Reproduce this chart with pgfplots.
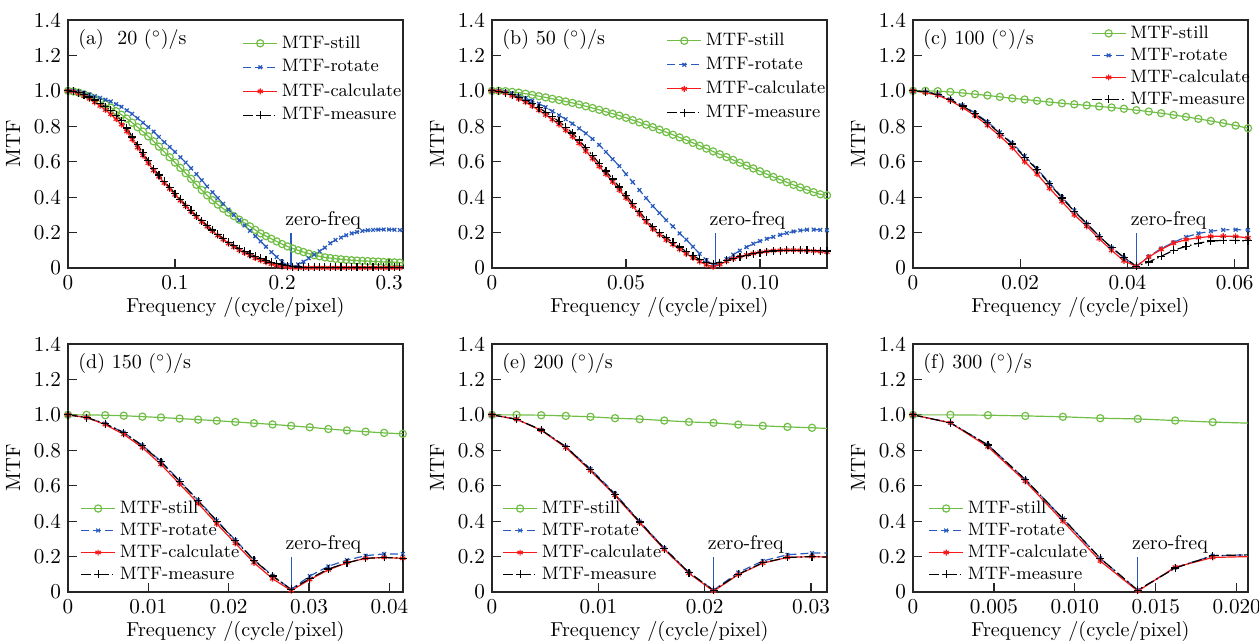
\documentclass[border=0pt]{standalone}
\usepackage{pgfplots}
\usepackage{pgfplotstable}
\pgfplotsset{compat=1.18}
\definecolor{mgreen}{RGB}{112,190,70}
\definecolor{mblue}{RGB}{40,90,190}
\definecolor{mred}{RGB}{250,25,25}

\pgfplotstableread{
x s r c m
0.000 1.000 1.000 1.000 1.000
0.005 0.997 0.999 0.995 0.997
0.010 0.990 0.995 0.985 0.990
0.015 0.980 0.988 0.970 0.978
0.020 0.970 0.980 0.955 0.965
0.025 0.955 0.970 0.935 0.948
0.030 0.940 0.960 0.915 0.930
0.035 0.923 0.950 0.892 0.910
0.040 0.905 0.940 0.868 0.890
0.045 0.885 0.925 0.840 0.862
0.050 0.865 0.910 0.810 0.832
0.055 0.843 0.890 0.770 0.790
0.060 0.820 0.870 0.725 0.740
0.065 0.795 0.845 0.680 0.695
0.070 0.770 0.820 0.635 0.650
0.075 0.743 0.795 0.592 0.605
0.080 0.715 0.770 0.550 0.560
0.085 0.685 0.740 0.515 0.525
0.090 0.655 0.710 0.480 0.490
0.095 0.625 0.683 0.447 0.455
0.100 0.595 0.655 0.413 0.420
0.105 0.565 0.625 0.380 0.388
0.110 0.535 0.595 0.348 0.355
0.115 0.503 0.563 0.318 0.325
0.120 0.470 0.530 0.288 0.295
0.125 0.440 0.495 0.260 0.268
0.130 0.410 0.460 0.233 0.240
0.135 0.383 0.428 0.208 0.215
0.140 0.358 0.395 0.183 0.190
0.145 0.335 0.362 0.160 0.168
0.150 0.313 0.330 0.138 0.145
0.155 0.293 0.300 0.118 0.127
0.160 0.273 0.270 0.100 0.110
0.165 0.254 0.240 0.085 0.095
0.170 0.235 0.210 0.070 0.080
0.175 0.215 0.180 0.055 0.067
0.180 0.195 0.150 0.043 0.055
0.185 0.180 0.120 0.032 0.044
0.190 0.165 0.090 0.022 0.033
0.195 0.150 0.062 0.014 0.025
0.200 0.135 0.035 0.008 0.018
0.205 0.122 0.015 0.004 0.012
0.210 0.110 0.005 0.002 0.008
0.215 0.100 0.020 0.001 0.006
0.220 0.090 0.035 0.001 0.005
0.225 0.081 0.055 0.001 0.005
0.230 0.072 0.075 0.001 0.005
0.235 0.066 0.095 0.001 0.005
0.240 0.060 0.115 0.001 0.005
0.245 0.056 0.140 0.001 0.005
0.250 0.052 0.158 0.001 0.005
0.255 0.049 0.172 0.001 0.005
0.260 0.046 0.185 0.001 0.005
0.265 0.044 0.195 0.001 0.005
0.270 0.042 0.203 0.001 0.005
0.275 0.040 0.209 0.001 0.005
0.280 0.039 0.213 0.001 0.005
0.285 0.037 0.215 0.001 0.005
0.290 0.036 0.217 0.001 0.005
0.295 0.034 0.217 0.001 0.005
0.300 0.033 0.217 0.001 0.005
0.305 0.032 0.216 0.001 0.005
0.310 0.030 0.214 0.001 0.005
0.315 0.029 0.212 0.001 0.005
}\tabA

\pgfplotstableread{
x s r c m
0 1.000 1.000 1.000 1.000
0.0025 1.000 0.999 0.997 0.998
0.005 0.998 0.995 0.987 0.990
0.0075 0.994 0.985 0.972 0.978
0.01 0.990 0.972 0.955 0.963
0.0125 0.984 0.958 0.936 0.947
0.015 0.977 0.944 0.914 0.928
0.0175 0.970 0.928 0.890 0.905
0.02 0.963 0.908 0.864 0.880
0.0225 0.955 0.885 0.838 0.855
0.025 0.948 0.862 0.810 0.827
0.0275 0.940 0.840 0.777 0.795
0.03 0.932 0.815 0.742 0.762
0.0325 0.923 0.788 0.703 0.722
0.035 0.913 0.760 0.660 0.678
0.0375 0.903 0.728 0.617 0.635
0.04 0.893 0.695 0.573 0.590
0.0425 0.882 0.655 0.530 0.547
0.045 0.871 0.615 0.486 0.502
0.0475 0.860 0.575 0.440 0.457
0.05 0.848 0.530 0.395 0.410
0.0525 0.835 0.485 0.350 0.365
0.055 0.822 0.440 0.303 0.318
0.0575 0.809 0.395 0.260 0.273
0.06 0.795 0.350 0.220 0.232
0.0625 0.781 0.310 0.188 0.200
0.065 0.767 0.270 0.158 0.170
0.0675 0.752 0.235 0.132 0.145
0.07 0.737 0.195 0.105 0.118
0.0725 0.722 0.160 0.080 0.093
0.075 0.706 0.120 0.057 0.070
0.0775 0.690 0.080 0.036 0.048
0.08 0.674 0.045 0.018 0.032
0.0825 0.658 0.015 0.006 0.025
0.085 0.642 0.025 0.020 0.030
0.0875 0.626 0.050 0.038 0.043
0.09 0.610 0.075 0.052 0.054
0.0925 0.594 0.098 0.064 0.063
0.095 0.578 0.118 0.074 0.072
0.0975 0.562 0.137 0.082 0.080
0.1 0.546 0.152 0.089 0.087
0.1025 0.530 0.165 0.094 0.092
0.105 0.514 0.176 0.098 0.096
0.1075 0.499 0.187 0.100 0.098
0.11 0.484 0.197 0.101 0.100
0.1125 0.469 0.206 0.101 0.100
0.115 0.455 0.212 0.100 0.100
0.1175 0.441 0.216 0.098 0.099
0.12 0.428 0.217 0.096 0.098
0.1225 0.416 0.215 0.093 0.097
0.125 0.410 0.213 0.090 0.096
}\tabB

\pgfplotstableread{
x s r c m
0       1.000 1.000 1.000 1.000
0.00231 1.000 0.995 0.990 0.995
0.00463 0.998 0.980 0.975 0.980
0.00694 0.994 0.952 0.945 0.950
0.00926 0.988 0.918 0.905 0.915
0.01157 0.981 0.875 0.860 0.870
0.01389 0.974 0.825 0.805 0.820
0.01620 0.966 0.765 0.745 0.760
0.01852 0.958 0.705 0.680 0.700
0.02083 0.951 0.632 0.600 0.625
0.02315 0.944 0.560 0.530 0.555
0.02546 0.937 0.480 0.450 0.475
0.02778 0.930 0.400 0.375 0.395
0.03009 0.924 0.325 0.300 0.320
0.03241 0.918 0.250 0.235 0.250
0.03472 0.912 0.180 0.165 0.180
0.03704 0.906 0.115 0.100 0.115
0.03935 0.899 0.058 0.040 0.060
0.04167 0.891 0.010 0.010 0.010
0.04398 0.883 0.065 0.062 0.034
0.04630 0.874 0.110 0.105 0.066
0.04861 0.864 0.145 0.140 0.100
0.05093 0.853 0.175 0.160 0.122
0.05324 0.842 0.195 0.171 0.140
0.05556 0.830 0.208 0.178 0.152
0.05787 0.818 0.215 0.180 0.156
0.06019 0.804 0.216 0.178 0.156
0.06250 0.789 0.214 0.170 0.153
}\tabC

\pgfplotstableread{
x s r c m
0       1.000 1.000 1.000 1.000
0.00231 1.000 0.985 0.985 0.985
0.00463 0.998 0.950 0.945 0.950
0.00694 0.995 0.900 0.890 0.900
0.00926 0.990 0.828 0.815 0.825
0.01157 0.985 0.738 0.720 0.735
0.01389 0.979 0.628 0.610 0.625
0.01620 0.973 0.518 0.500 0.515
0.01852 0.967 0.403 0.385 0.400
0.02083 0.960 0.293 0.275 0.290
0.02315 0.953 0.183 0.165 0.180
0.02546 0.946 0.092 0.075 0.090
0.02778 0.938 0.015 0.008 0.015
0.03009 0.930 0.090 0.070 0.075
0.03241 0.920 0.145 0.125 0.130
0.03472 0.912 0.180 0.165 0.165
0.03704 0.905 0.205 0.190 0.190
0.03935 0.898 0.215 0.195 0.195
0.04167 0.893 0.215 0.190 0.190
}\tabD

\pgfplotstableread{
x s r c m
0       1.000 1.000 1.000 1.000
0.00231 1.000 0.975 0.975 0.975
0.00463 0.998 0.915 0.913 0.915
0.00694 0.994 0.820 0.815 0.820
0.00926 0.989 0.695 0.685 0.690
0.01157 0.981 0.555 0.545 0.550
0.01389 0.976 0.398 0.390 0.395
0.01620 0.968 0.247 0.240 0.245
0.01852 0.960 0.110 0.105 0.110
0.02083 0.955 0.010 0.005 0.010
0.02315 0.945 0.110 0.098 0.100
0.02546 0.938 0.175 0.163 0.165
0.02778 0.932 0.210 0.195 0.195
0.03009 0.927 0.220 0.200 0.200
0.03241 0.921 0.220 0.195 0.195
}\tabE

\pgfplotstableread{
x s r c m
0       1.000 1.000 1.000 1.000
0.00231 1.000 0.955 0.955 0.955
0.00463 0.998 0.830 0.820 0.830
0.00694 0.994 0.635 0.625 0.635
0.00926 0.989 0.415 0.400 0.415
0.01157 0.981 0.190 0.175 0.190
0.01389 0.977 0.010 0.005 0.010
0.01620 0.968 0.138 0.140 0.135
0.01852 0.959 0.205 0.195 0.205
0.02083 0.953 0.210 0.200 0.210
}\tabF

\pgfplotsset{
  mtf/.style={
    scale only axis, width=167.5pt, height=124pt,
    ymin=0, ymax=1.4,
    ytick={0,0.2,0.4,0.6,0.8,1.0,1.2,1.4},
    yticklabels={0,0.2,0.4,0.6,0.8,1.0,1.2,1.4},
    xmin=0, tick align=inside, tick pos=left,
    axis line style={line width=0.6pt, black!85},
    major tick style={line width=0.6pt, black!85},
    tick label style={font=\fontsize{10.6}{12}\selectfont},
    xlabel={Frequency /(cycle/pixel)}, ylabel={MTF},
    xlabel style={font=\fontsize{10.1}{12}\selectfont, yshift=3pt},
    ylabel style={font=\fontsize{10.3}{12}\selectfont},
    scaled x ticks=false,
    legend cell align=left,
    legend style={draw=none, fill=none, font=\small, inner sep=0pt, row sep=-0.7pt},
    every axis plot/.append style={line width=0.6pt},
  },
  still/.style={mgreen, mark=o, mark size=1.8pt, mark options={solid}},
  rot/.style={mblue, dash pattern=on 4pt off 2pt, mark=x, mark size=1.3pt, mark options={solid}},
  calc/.style={mred, mark=asterisk, mark size=1.5pt, mark options={solid}},
  meas/.style={black, dash pattern=on 5pt off 1.5pt on 0.8pt off 1.5pt, mark=+, mark size=2pt, mark options={solid}},
}
\newcommand{\fourplots}[1]{%
  \addplot[still] table[x=x,y=s]{#1};
  \addplot[rot] table[x=x,y=r]{#1};
  \addplot[calc] table[x=x,y=c]{#1};
  \addplot[meas] table[x=x,y=m]{#1};
  \legend{MTF-still,MTF-rotate,MTF-calculate,MTF-measure}
}
\newcommand{\zf}[1]{%
  \addplot[mblue, no marks, line width=0.6pt, forget plot] coordinates {(#1,0) (#1,0.2)};
  \node[anchor=base west, inner sep=0pt, xshift=-3pt] at (axis cs:#1,0.24) {zero-freq};
}
\newcommand{\ptitle}[1]{\node[anchor=west, inner sep=0pt] at (rel axis cs:0.03,0.92) {#1};}

\begin{document}
\begin{tikzpicture}
\path[use as bounding box] (0,0) rectangle (629.5pt,321pt);

\begin{axis}[mtf, at={(34pt,187pt)}, anchor=south west, xmax=0.313,
  xtick={0,0.1,0.2,0.3}, xticklabels={0,0.1,0.2,0.3},
  legend style={at={(0.52,0.955)}, anchor=north west, row sep=0.3pt}]
\fourplots{\tabA}
\zf{0.2083}
\ptitle{(a)\ \ 20 (${}^\circ$)/s}
\end{axis}

\begin{axis}[mtf, at={(246pt,187pt)}, anchor=south west, xmax=0.125,
  xtick={0,0.05,0.1}, xticklabels={0,0.05,0.10},
  legend style={at={(0.52,0.965)}, anchor=north west, row sep=0.3pt}]
\fourplots{\tabB}
\zf{0.0833}
\ptitle{(b)\ 50 (${}^\circ$)/s}
\end{axis}

\begin{axis}[mtf, at={(456.5pt,187pt)}, anchor=south west, xmax=0.0625,
  xtick={0,0.02,0.04,0.06}, xticklabels={0,0.02,0.04,0.06},
  legend style={at={(0.53,0.995)}, anchor=north west}]
\fourplots{\tabC}
\zf{0.04167}
\ptitle{(c)\ 100 (${}^\circ$)/s}
\end{axis}

\begin{axis}[mtf, at={(34pt,25pt)}, anchor=south west, xmax=0.0417,
  xtick={0,0.01,0.02,0.03,0.04}, xticklabels={0,0.01,0.02,0.03,0.04},
  legend style={at={(0.036,0.022)}, anchor=south west}]
\fourplots{\tabD}
\zf{0.02778}
\ptitle{(d)\ 150 (${}^\circ$)/s}
\end{axis}

\begin{axis}[mtf, at={(246pt,25pt)}, anchor=south west, xmax=0.0315,
  xtick={0,0.01,0.02,0.03}, xticklabels={0,0.01,0.02,0.03},
  legend style={at={(0.03,0.022)}, anchor=south west}]
\fourplots{\tabE}
\zf{0.02083}
\ptitle{(e)\ 200 (${}^\circ$)/s}
\end{axis}

\begin{axis}[mtf, at={(456.5pt,25pt)}, anchor=south west, xmax=0.0207,
  xtick={0,0.005,0.01,0.015,0.02}, xticklabels={0,0.005,0.010,0.015,0.020},
  legend style={at={(0.045,0.022)}, anchor=south west}]
\fourplots{\tabF}
\zf{0.01389}
\ptitle{(f)\ 300 (${}^\circ$)/s}
\end{axis}
\end{tikzpicture}
\end{document}
